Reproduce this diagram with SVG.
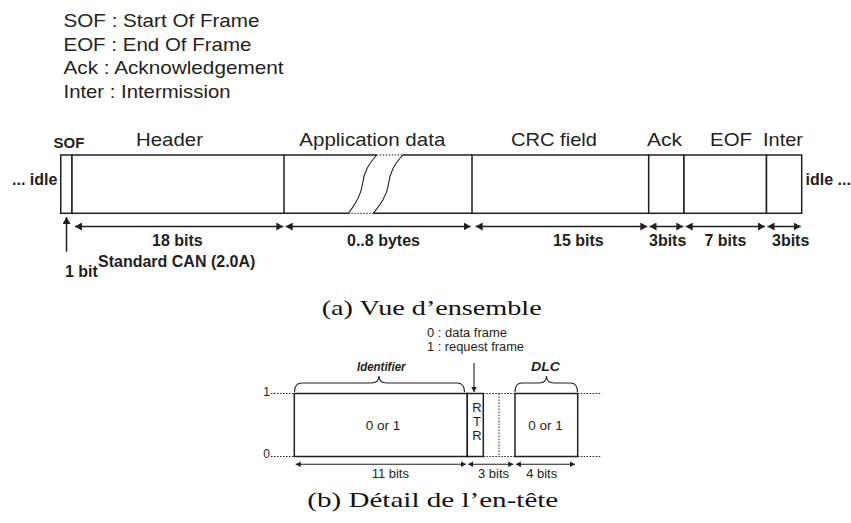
<svg xmlns="http://www.w3.org/2000/svg" width="851" height="523" viewBox="0 0 851 523">
<style>
.bg{fill:#fff}
.box{fill:#fff;stroke:#231f20;stroke-width:1.5}
.ln{fill:none;stroke:#231f20;stroke-width:1.5}
.thin{fill:none;stroke:#231f20;stroke-width:1.1}
.dot{fill:none;stroke:#231f20;stroke-width:1;stroke-dasharray:1.5 1.5}
.t{font-family:"Liberation Sans",Arial,Helvetica,sans-serif;fill:#231f20}
.b{font-weight:bold}
.bi{font-weight:bold;font-style:italic}
.cap{font-family:"Liberation Serif","Times New Roman",serif;fill:#111}
</style>
<defs>
<marker id="ah" markerUnits="userSpaceOnUse" markerWidth="8" markerHeight="8" refX="7" refY="4" orient="auto-start-reverse">
<path d="M0,0 L7,4 L0,8 z" fill="#231f20"/>
</marker>
<marker id="as" markerUnits="userSpaceOnUse" markerWidth="6" markerHeight="6" refX="5" refY="3" orient="auto-start-reverse">
<path d="M0,0.2 L5,3 L0,5.8 z" fill="#231f20"/>
</marker>
</defs>
<rect class="bg" x="0" y="0" width="851" height="523"/>

<g id="legend" class="t" font-size="19">
<text x="63.5" y="27" textLength="196" lengthAdjust="spacingAndGlyphs">SOF : Start Of Frame</text>
<text x="63.5" y="50.7" textLength="188" lengthAdjust="spacingAndGlyphs">EOF : End Of Frame</text>
<text x="63.5" y="74.3" textLength="220" lengthAdjust="spacingAndGlyphs">Ack : Acknowledgement</text>
<text x="63.5" y="98" textLength="167" lengthAdjust="spacingAndGlyphs">Inter : Intermission</text>
</g>

<!-- (a) overall frame -->
<g id="idle-left"><text class="t b" x="12" y="185" font-size="16">... idle</text></g>
<g id="sof">
<rect class="box" x="60.75" y="155" width="11.25" height="58.3"/>
<text class="t b" x="53.5" y="147.5" font-size="15">SOF</text>
</g>
<g id="header">
<rect class="box" x="72" y="155" width="212" height="58.3"/>
<text class="t" x="136" y="145.5" font-size="19" textLength="67" lengthAdjust="spacingAndGlyphs">Header</text>
</g>
<g id="appdata">
<path class="ln" d="M284,155 H376.7 M402.7,155 H472 M284,213.3 H348.3 M373.3,213.3 H472"/>
<path class="dot" d="M376.7,155 H402.7 M348.3,213.3 H373.3"/>
<path class="thin" d="M376.7,155 C368,165 364,172 362.5,184 C361,196 355,205 348.3,213.3"/>
<path class="thin" d="M402.7,155 C394,165 390,172 388.5,184 C387,196 380,205 373.3,213.3"/>
<text class="t" x="299.3" y="145.5" font-size="19" textLength="146" lengthAdjust="spacingAndGlyphs">Application data</text>
</g>
<g id="crc">
<rect class="box" x="472" y="155" width="176.7" height="58.3"/>
<text class="t" x="511" y="145.5" font-size="19" textLength="86" lengthAdjust="spacingAndGlyphs">CRC field</text>
</g>
<g id="ack">
<rect class="box" x="648.7" y="155" width="35.3" height="58.3"/>
<text class="t" x="647" y="145.5" font-size="19" textLength="35" lengthAdjust="spacingAndGlyphs">Ack</text>
</g>
<g id="eof">
<rect class="box" x="684" y="155" width="82.5" height="58.3"/>
<text class="t" x="710" y="145.5" font-size="19" textLength="42" lengthAdjust="spacingAndGlyphs">EOF</text>
</g>
<g id="inter">
<rect class="box" x="766.5" y="155" width="35.2" height="58.3"/>
<text class="t" x="763" y="145.5" font-size="19" textLength="40" lengthAdjust="spacingAndGlyphs">Inter</text>
</g>
<g id="idle-right"><text class="t b" x="805.5" y="185" font-size="16">idle ...</text></g>

<g id="connectors-a" class="ln" stroke-width="1.5">
<line x1="75" y1="226.5" x2="283.3" y2="226.5" marker-start="url(#ah)" marker-end="url(#ah)"/>
<line x1="285.7" y1="226.5" x2="470.7" y2="226.5" marker-start="url(#ah)" marker-end="url(#ah)"/>
<line x1="475.7" y1="226.5" x2="647.3" y2="226.5" marker-start="url(#ah)" marker-end="url(#ah)"/>
<line x1="649.5" y1="226.5" x2="683.3" y2="226.5" marker-start="url(#ah)" marker-end="url(#ah)"/>
<line x1="685.7" y1="226.5" x2="765" y2="226.5" marker-start="url(#ah)" marker-end="url(#ah)"/>
<line x1="767.5" y1="226.5" x2="800.7" y2="226.5" marker-start="url(#ah)" marker-end="url(#ah)"/>
<line x1="66.5" y1="251.7" x2="66.5" y2="217" marker-end="url(#ah)"/>
</g>
<g id="labels-a" class="t b" font-size="16">
<text x="152" y="245.5">18 bits</text>
<text x="347" y="245.5">0..8 bytes</text>
<text x="553" y="245.5">15 bits</text>
<text x="649" y="245.5">3bits</text>
<text x="704.5" y="245.5">7 bits</text>
<text x="772" y="245.5">3bits</text>
<text x="98" y="267">Standard CAN (2.0A)</text>
<text x="65" y="277">1 bit</text>
</g>
<text class="cap" x="321.7" y="315" font-size="22" textLength="220" lengthAdjust="spacingAndGlyphs">(a) Vue d’ensemble</text>

<!-- (b) header detail -->
<g id="levels">
<text class="t" x="270" y="396" font-size="12" text-anchor="end">1</text>
<text class="t" x="270" y="457.5" font-size="12" text-anchor="end">0</text>
<path class="dot" d="M271,393.5 H294.3 M271,456.5 H294.3 M577.7,393.5 H601 M577.7,456.5 H601 M483.3,393.5 H515 M483.3,456.5 H515 M499,393.5 V456.5"/>
</g>
<g id="identifier">
<rect class="box" x="294.3" y="393.5" width="173" height="63"/>
<text class="t" x="383" y="430" font-size="13.5" text-anchor="middle">0 or 1</text>
<path class="thin" d="M294.5,392 Q294.5,383 302,383 L371,383 Q379,383 379,376 Q379,383 387,383 L457,383 Q464.5,383 464.5,392"/>
<text class="t bi" x="357" y="371" font-size="13" textLength="48.5" lengthAdjust="spacingAndGlyphs">Identifier</text>
</g>
<g id="rtr">
<rect class="box" x="467.3" y="393.5" width="16" height="63"/>
<text class="t" x="477" y="412" font-size="13" text-anchor="middle">R</text>
<text class="t" x="477" y="426" font-size="13" text-anchor="middle">T</text>
<text class="t" x="477" y="440" font-size="13" text-anchor="middle">R</text>
<text class="t" x="427" y="336.5" font-size="12.5" textLength="80" lengthAdjust="spacingAndGlyphs">0 : data frame</text>
<text class="t" x="427" y="351" font-size="12.5" textLength="97" lengthAdjust="spacingAndGlyphs">1 : request frame</text>
</g>
<g id="dlc">
<rect class="box" x="515" y="393.5" width="62.7" height="63"/>
<text class="t" x="545.5" y="430" font-size="13.5" text-anchor="middle">0 or 1</text>
<path class="thin" d="M515,392 Q515,383 522,383 L539,383 Q546.5,383 546.5,376 Q546.5,383 554,383 L570.5,383 Q577.5,383 577.5,392"/>
<text class="t bi" x="531" y="371" font-size="13" textLength="29" lengthAdjust="spacingAndGlyphs">DLC</text>
</g>
<g id="connectors-b" class="thin">
<line x1="474" y1="363" x2="474" y2="392" marker-end="url(#as)"/>
<line x1="295.7" y1="464.3" x2="466" y2="464.3" marker-start="url(#as)" marker-end="url(#as)"/>
<line x1="468.2" y1="464.3" x2="513.3" y2="464.3" marker-start="url(#as)" marker-end="url(#as)"/>
<line x1="515.9" y1="464.3" x2="575" y2="464.3" marker-start="url(#as)" marker-end="url(#as)"/>
</g>
<g id="labels-b" class="t" font-size="13" text-anchor="middle">
<text x="390.3" y="478">11 bits</text>
<text x="493.5" y="478">3 bits</text>
<text x="541.7" y="478">4 bits</text>
</g>
<text class="cap" x="307.3" y="506.5" font-size="22" textLength="251" lengthAdjust="spacingAndGlyphs">(b) Détail de l’en-tête</text>
</svg>
